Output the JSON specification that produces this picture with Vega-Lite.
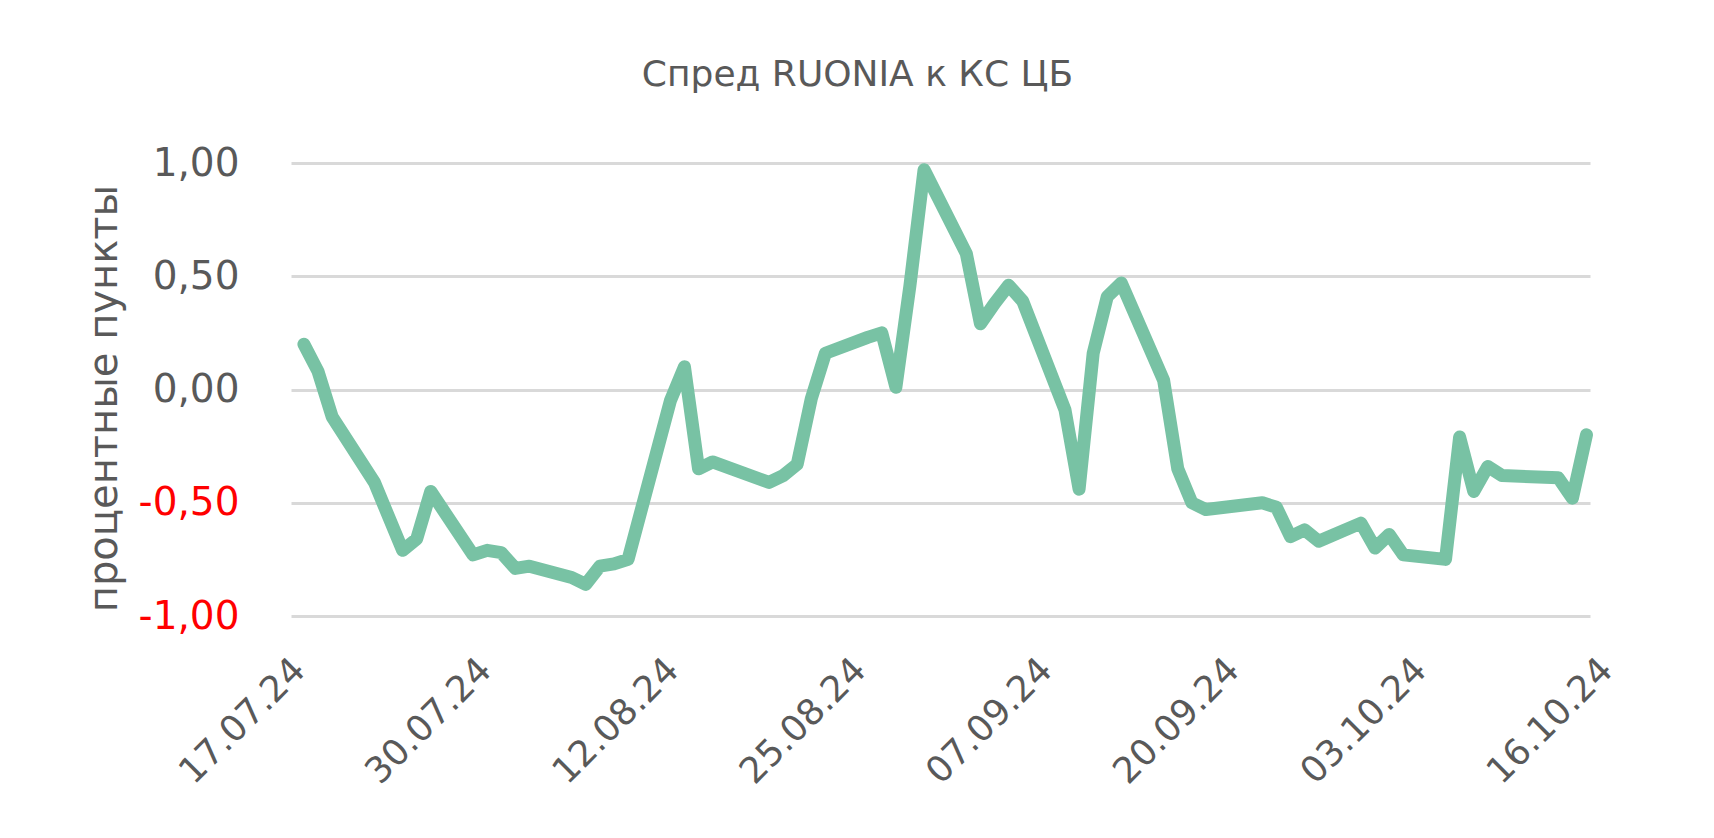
{
  "$schema": "https://vega.github.io/schema/vega-lite/v6.json",
  "width": 1299,
  "height": 453,
  "autosize": {"type": "none"},
  "padding": {"left": 291, "top": 163, "right": 124, "bottom": 222},
  "background": "white",
  "config": {"view": {"stroke": null}},
  "title": {
    "text": "Спред RUONIA к КС ЦБ",
    "anchor": "middle",
    "frame": "group",
    "dx": -83,
    "offset": 22,
    "baseline": "alphabetic",
    "font": "DejaVu Sans",
    "fontSize": 36,
    "fontWeight": "normal",
    "color": "#595959"
  },
  "data": {
    "values": [
      {"date": "2024-07-17", "spread": 0.20},
      {"date": "2024-07-18", "spread": 0.08},
      {"date": "2024-07-19", "spread": -0.12},
      {"date": "2024-07-22", "spread": -0.41},
      {"date": "2024-07-24", "spread": -0.71},
      {"date": "2024-07-25", "spread": -0.66},
      {"date": "2024-07-26", "spread": -0.45},
      {"date": "2024-07-29", "spread": -0.73},
      {"date": "2024-07-30", "spread": -0.71},
      {"date": "2024-07-31", "spread": -0.72},
      {"date": "2024-08-01", "spread": -0.79},
      {"date": "2024-08-02", "spread": -0.78},
      {"date": "2024-08-05", "spread": -0.83},
      {"date": "2024-08-06", "spread": -0.86},
      {"date": "2024-08-07", "spread": -0.78},
      {"date": "2024-08-08", "spread": -0.77},
      {"date": "2024-08-09", "spread": -0.75},
      {"date": "2024-08-12", "spread": -0.05},
      {"date": "2024-08-13", "spread": 0.10},
      {"date": "2024-08-14", "spread": -0.35},
      {"date": "2024-08-15", "spread": -0.32},
      {"date": "2024-08-19", "spread": -0.41},
      {"date": "2024-08-20", "spread": -0.38},
      {"date": "2024-08-21", "spread": -0.33},
      {"date": "2024-08-22", "spread": -0.04},
      {"date": "2024-08-23", "spread": 0.16},
      {"date": "2024-08-26", "spread": 0.23},
      {"date": "2024-08-27", "spread": 0.25},
      {"date": "2024-08-28", "spread": 0.01},
      {"date": "2024-08-29", "spread": 0.46},
      {"date": "2024-08-30", "spread": 0.97},
      {"date": "2024-09-02", "spread": 0.60},
      {"date": "2024-09-03", "spread": 0.29},
      {"date": "2024-09-04", "spread": 0.38},
      {"date": "2024-09-05", "spread": 0.46},
      {"date": "2024-09-06", "spread": 0.39},
      {"date": "2024-09-09", "spread": -0.09},
      {"date": "2024-09-10", "spread": -0.44},
      {"date": "2024-09-11", "spread": 0.16},
      {"date": "2024-09-12", "spread": 0.41},
      {"date": "2024-09-13", "spread": 0.47},
      {"date": "2024-09-16", "spread": 0.04},
      {"date": "2024-09-17", "spread": -0.35},
      {"date": "2024-09-18", "spread": -0.50},
      {"date": "2024-09-19", "spread": -0.53},
      {"date": "2024-09-23", "spread": -0.50},
      {"date": "2024-09-24", "spread": -0.52},
      {"date": "2024-09-25", "spread": -0.65},
      {"date": "2024-09-26", "spread": -0.62},
      {"date": "2024-09-27", "spread": -0.67},
      {"date": "2024-09-30", "spread": -0.59},
      {"date": "2024-10-01", "spread": -0.70},
      {"date": "2024-10-02", "spread": -0.64},
      {"date": "2024-10-03", "spread": -0.73},
      {"date": "2024-10-06", "spread": -0.75},
      {"date": "2024-10-07", "spread": -0.21},
      {"date": "2024-10-08", "spread": -0.45},
      {"date": "2024-10-09", "spread": -0.34},
      {"date": "2024-10-10", "spread": -0.38},
      {"date": "2024-10-14", "spread": -0.39},
      {"date": "2024-10-15", "spread": -0.48},
      {"date": "2024-10-16", "spread": -0.20}
    ],
    "format": {"parse": {"date": "utc:'%Y-%m-%d'"}}
  },
  "mark": {
    "type": "line",
    "color": "#78C2A4",
    "strokeWidth": 13,
    "strokeCap": "round",
    "strokeJoin": "round"
  },
  "encoding": {
    "x": {
      "field": "date",
      "type": "temporal",
      "scale": {
        "type": "utc",
        "domain": [
          {"year": 2024, "month": 7, "date": 16, "hours": 2, "utc": true},
          {"year": 2024, "month": 10, "date": 16, "hours": 6, "utc": true}
        ]
      },
      "axis": {
        "title": null,
        "grid": false,
        "domain": false,
        "ticks": false,
        "tickSize": 0,
        "values": [
          {"year": 2024, "month": 7, "date": 17, "utc": true},
          {"year": 2024, "month": 7, "date": 30, "utc": true},
          {"year": 2024, "month": 8, "date": 12, "utc": true},
          {"year": 2024, "month": 8, "date": 25, "utc": true},
          {"year": 2024, "month": 9, "date": 7, "utc": true},
          {"year": 2024, "month": 9, "date": 20, "utc": true},
          {"year": 2024, "month": 10, "date": 3, "utc": true},
          {"year": 2024, "month": 10, "date": 16, "utc": true}
        ],
        "labelExpr": "utcFormat(datum.value, '%d.%m.%y')",
        "labelAngle": -45,
        "labelAlign": "right",
        "labelBaseline": "middle",
        "labelPadding": 48,
        "labelFont": "DejaVu Sans",
        "labelFontSize": 36,
        "labelColor": "#595959",
        "labelOverlap": false,
        "labelFlush": false,
        "labelBound": false,
        "labelOffset": {
          "condition": [
            {"test": "datum.value < utc(2024,6,20)", "value": -5},
            {"test": "datum.value < utc(2024,7,1)", "value": -2},
            {"test": "datum.value < utc(2024,7,15)", "value": 2},
            {"test": "datum.value < utc(2024,7,28)", "value": 6},
            {"test": "datum.value < utc(2024,8,10)", "value": 9},
            {"test": "datum.value < utc(2024,8,23)", "value": 13},
            {"test": "datum.value < utc(2024,9,6)", "value": 17}
          ],
          "value": 20
        }
      }
    },
    "y": {
      "field": "spread",
      "type": "quantitative",
      "scale": {"domain": [-1, 1], "nice": false, "zero": false},
      "axis": {
        "values": [-1, -0.5, 0, 0.5, 1],
        "grid": true,
        "gridColor": "#D9D9D9",
        "gridWidth": 3,
        "domain": false,
        "ticks": false,
        "tickSize": 0,
        "labelPadding": 52,
        "labelFont": "DejaVu Sans",
        "labelFontSize": 39,
        "labelBaseline": "middle",
        "labelColor": {"condition": {"test": "datum.value < 0", "value": "#FF0000"}, "value": "#595959"},
        "labelExpr": "(datum.value < 0 ? '-' : '') + replace(format(abs(datum.value), '.2f'), '.', ',')",
        "title": "процентные пункты",
        "titleFont": "DejaVu Sans",
        "titleFontSize": 40,
        "titleFontWeight": "normal",
        "titleColor": "#595959",
        "titleAngle": 270,
        "titleAlign": "center",
        "titleBaseline": "middle",
        "titleX": -187,
        "titleY": 235
      }
    }
  }
}
